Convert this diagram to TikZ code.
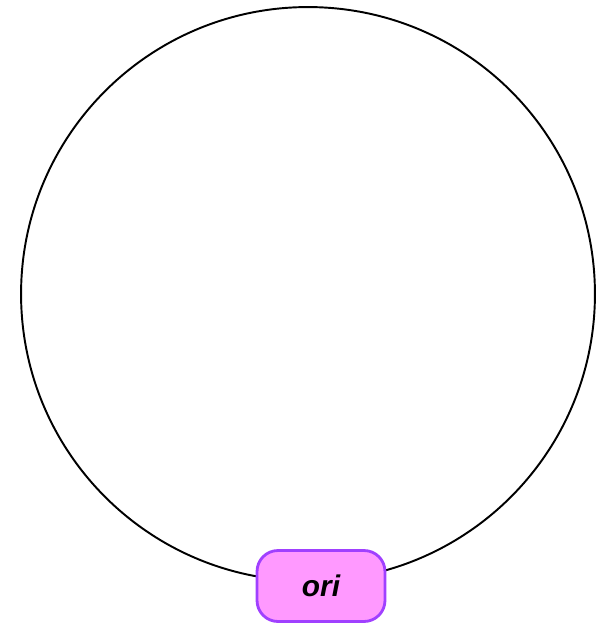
\documentclass[tikz,border=0pt]{standalone}
\usepackage{fontspec}
\setmainfont{Liberation Sans}
\usepackage{xcolor}
\usepackage{tikz}
\usetikzlibrary{positioning}
\definecolor{oriFill}{RGB}{255,153,255}
\definecolor{oriDraw}{RGB}{160,64,255}

\begin{document}
\begin{tikzpicture}[x=0.02cm, y=-0.02cm,
		orinode/.style={shape=rectangle, draw=oriDraw, fill=oriFill, line width=1.6pt, rounded corners=0.42cm, minimum width=2.56cm, minimum height=1.42cm, font=\fontsize{17}{20}\selectfont\bfseries\itshape}]
		\useasboundingbox (0, 0) rectangle (600, 623);
		% Paths, nodes and wires:
		\coordinate (C) at (308, 294);
		\draw[line width=1.1pt] (C) circle [radius=5.74cm];
		\node[orinode](N1) at (321, 586){ori};
	\end{tikzpicture}
\end{document}
